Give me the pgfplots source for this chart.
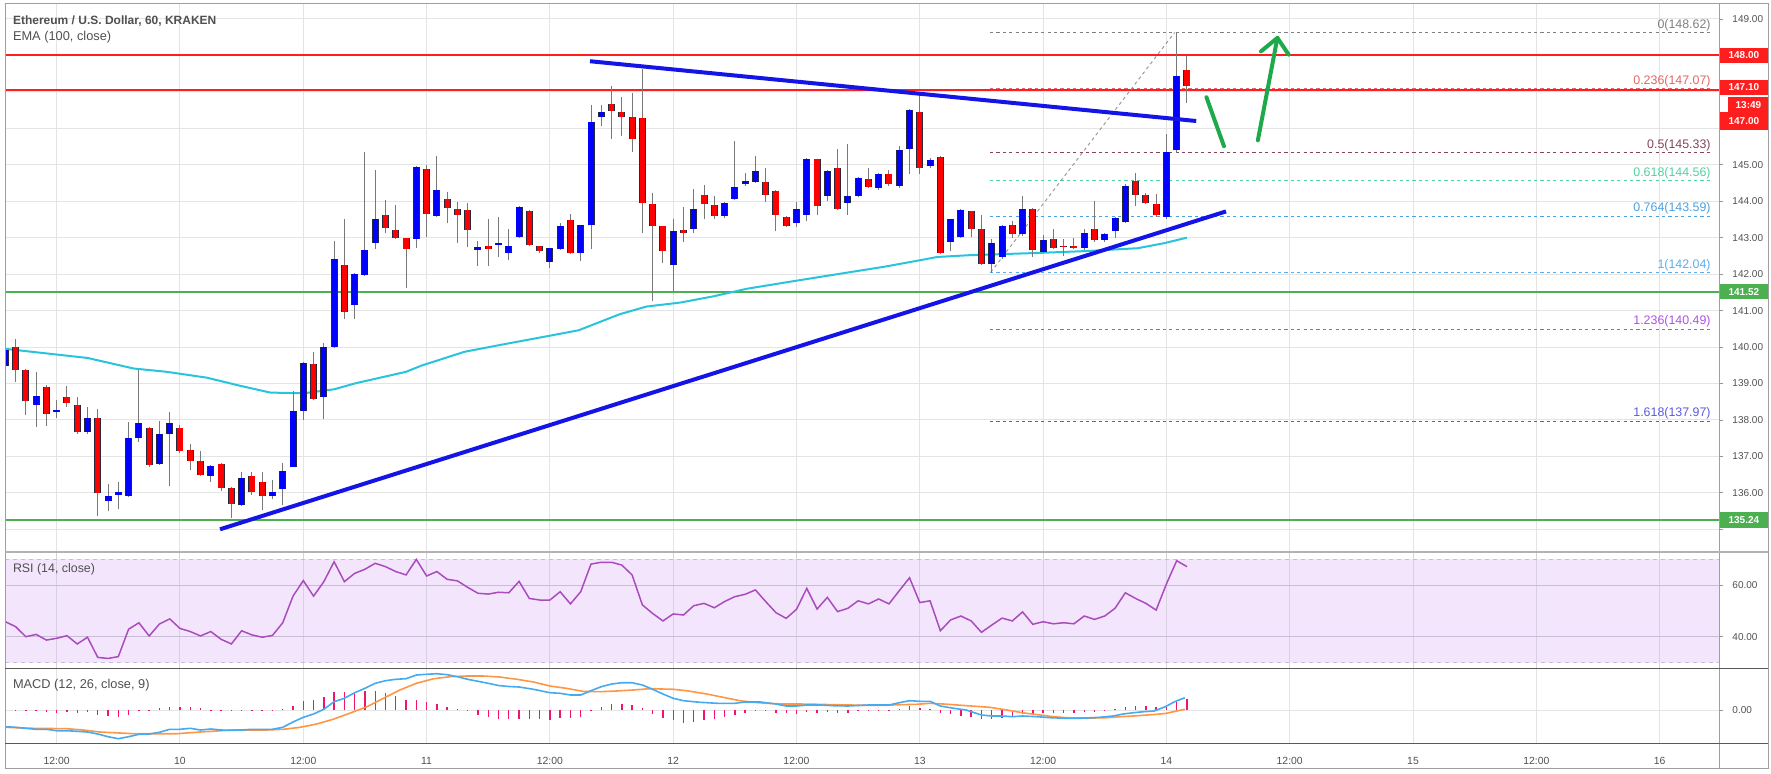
\documentclass[border=0pt]{standalone}
\usepackage{fontspec}
\setmainfont{Liberation Sans}
\usepackage{pgfplots}
\usepackage{pgfplotstable}
\pgfplotsset{compat=1.18}
\definecolor{cblue}{RGB}{0,0,255}
\definecolor{cred}{RGB}{255,0,0}
\definecolor{outl}{RGB}{40,40,60}
\definecolor{wickc}{RGB}{120,120,120}
\definecolor{trendblue}{RGB}{20,20,230}
\definecolor{emac}{RGB}{40,196,220}
\definecolor{hred}{RGB}{255,30,30}
\definecolor{hgreen}{RGB}{76,175,80}
\definecolor{arrgreen}{RGB}{30,170,75}
\definecolor{rsic}{RGB}{170,75,190}
\definecolor{rsifill}{RGB}{243,230,252}
\definecolor{rsigrid}{RGB}{200,188,214}
\definecolor{macdc}{RGB}{70,170,240}
\definecolor{sigc}{RGB}{255,150,70}
\definecolor{histc}{RGB}{240,20,110}
\definecolor{gridc}{RGB}{228,228,228}
\definecolor{txtc}{RGB}{80,80,80}
\definecolor{fibA}{RGB}{128,128,128}
\definecolor{fibB}{RGB}{230,100,100}
\definecolor{fibC}{RGB}{130,70,90}
\definecolor{fibD}{RGB}{80,210,160}
\definecolor{fibE}{RGB}{80,160,220}
\definecolor{fibF}{RGB}{90,175,235}
\definecolor{fibG}{RGB}{175,80,230}
\definecolor{fibH}{RGB}{90,90,225}

\pgfplotstableread{
t o h l c
-17 139.49 140.05 139.30 139.92
-14 138.40 139.32 137.80 138.67
-12 138.22 138.54 138.04 138.27
-9 137.67 138.35 137.62 138.04
-7 135.77 136.23 135.49 135.91
-6 135.94 136.31 135.56 136.01
-5 135.91 137.93 135.88 137.50
-4 137.50 139.38 137.39 137.91
-2 136.80 137.97 136.77 137.62
-1 137.62 138.22 136.20 137.91
3 136.47 136.76 136.29 136.74
6 135.66 136.56 135.64 136.42
9 135.90 136.34 135.82 136.01
10 136.10 136.81 135.66 136.61
11 136.72 138.78 136.70 138.24
12 138.24 139.60 138.00 139.57
14 138.64 140.10 138.02 140.00
15 140.00 142.92 139.98 142.41
17 141.15 142.03 140.78 142.01
18 141.98 145.35 141.96 142.67
19 142.85 144.86 142.69 143.50
23 142.96 144.96 142.71 144.93
25 143.59 145.24 143.57 144.31
29 142.66 142.90 142.23 142.74
31 142.80 143.58 142.47 142.85
32 142.58 143.25 142.38 142.77
33 143.02 143.88 143.00 143.83
36 142.33 142.73 142.16 142.71
37 142.69 143.39 142.67 143.31
39 142.58 143.36 142.36 143.34
40 143.34 146.65 142.69 146.16
41 146.32 146.65 146.05 146.45
48 142.25 143.50 141.55 143.18
50 143.25 144.34 143.12 143.79
53 143.59 143.98 143.55 143.96
54 144.05 145.64 144.03 144.40
55 144.47 144.78 144.42 144.56
56 144.53 145.24 144.51 144.83
60 143.39 143.99 143.29 143.79
61 143.63 145.18 143.45 145.16
63 144.15 144.85 144.01 144.83
65 143.96 145.56 143.63 144.13
66 144.13 144.66 144.11 144.64
68 144.35 144.77 144.31 144.75
70 144.42 145.51 144.37 145.40
71 145.43 146.52 144.75 146.50
73 144.96 145.19 144.90 145.13
75 142.88 143.52 142.63 143.50
76 143.01 143.79 142.99 143.77
79 142.27 142.96 142.04 142.85
80 142.47 143.36 142.42 143.32
82 143.10 144.15 143.04 143.79
84 142.60 143.07 142.58 142.93
88 142.71 143.23 142.67 143.14
90 142.93 143.13 142.89 143.09
91 143.18 143.57 143.00 143.55
92 143.42 144.48 143.40 144.42
96 143.58 145.83 143.50 145.35
97 145.40 148.62 145.33 147.43
}\upc

\pgfplotstableread{
t o h l c
-16 140.00 140.22 139.05 139.36
-15 139.36 139.40 138.13 138.51
-13 138.89 138.95 137.82 138.15
-11 138.63 138.94 138.35 138.46
-10 138.40 138.64 137.62 137.66
-8 138.05 138.31 135.36 136.00
-3 137.77 137.80 136.72 136.75
0 137.77 137.86 137.10 137.15
1 137.17 137.34 136.63 136.88
2 136.86 137.15 136.45 136.48
4 136.79 136.82 136.04 136.14
5 136.14 136.16 135.31 135.69
7 136.47 136.56 135.95 136.01
8 136.31 136.56 135.52 135.90
13 139.53 139.86 138.56 138.58
16 142.25 143.50 140.78 140.95
20 143.61 144.04 143.12 143.26
21 143.21 143.89 142.96 142.98
22 142.99 143.00 141.62 142.69
24 144.88 144.99 143.03 143.66
26 144.07 144.26 143.39 143.80
27 143.79 143.99 142.85 143.61
28 143.77 143.94 142.74 143.21
30 142.76 143.50 142.23 142.70
34 143.74 143.76 142.78 142.80
35 142.77 142.78 142.58 142.64
38 143.48 143.66 142.56 142.58
42 146.68 147.16 145.72 146.48
43 146.46 146.86 145.78 146.30
44 146.32 146.97 145.35 145.72
45 146.29 147.62 143.12 143.94
46 143.91 144.23 141.26 143.32
47 143.31 143.33 142.30 142.63
49 143.21 143.83 142.89 143.12
51 144.18 144.45 143.50 143.91
52 143.90 144.15 143.50 143.59
57 144.53 144.91 143.99 144.18
58 144.29 144.31 143.18 143.63
59 143.58 143.60 143.29 143.32
62 145.15 145.17 143.61 143.88
64 144.91 145.42 143.77 143.79
67 144.61 144.91 144.36 144.40
69 144.75 144.86 144.42 144.46
72 146.45 146.92 144.75 144.91
74 145.21 145.23 142.56 142.58
77 143.72 143.74 143.01 143.23
78 143.23 143.61 142.25 142.27
81 143.34 143.46 143.00 143.10
83 143.79 143.81 142.47 142.66
85 142.96 143.23 142.69 142.71
86 142.78 142.96 142.50 142.74
87 142.77 143.00 142.70 142.72
89 143.23 144.01 142.89 142.93
93 144.55 144.77 143.88 144.18
94 144.18 144.22 143.92 143.94
95 143.93 144.20 143.58 143.61
98 147.60 147.97 146.69 147.15
}\dnc

\pgfplotsset{
  panel/.style={scale only axis, width=857pt, anchor=north west,
    xmin=-17.03, xmax=149.78, axis line style={draw=none},
    xtick={-12,0,...,144}, xticklabels={,,,,,,,,,,,,,},
    xtick style={draw=none},
    ytick pos=right, yticklabel pos=right, tick align=outside,
    major tick length=2pt,
    ytick style={draw=txtc!60, line width=0.4pt},
    yticklabel style={font=\fontsize{5}{6}\selectfont, text=txtc, anchor=west, xshift=1.2pt},
    clip mode=individual},
  cwick/.style={draw=none, mark=none, forget plot,
    error bars/.cd, y dir=plus, y explicit, error mark=none,
    error bar style={draw=wickc, line width=0.5pt, solid}},
  cbody/.style 2 args={draw=none, mark=none, forget plot,
    error bars/.cd, y dir=plus, y explicit, error mark=none,
    error bar style={draw=#1, line width=#2, solid, line cap=butt}},
}

\begin{document}
\begin{tikzpicture}[font=\fontsize{5}{6}\selectfont]
\useasboundingbox (0,0) rectangle (885.5pt,-387pt);

% ---------------- main price panel ----------------
\begin{axis}[panel, at={(2.5pt,-2pt)}, height=274pt,
  ymin=134.377, ymax=149.41,
  ytick={135,...,149},
  yticklabels={,136.00,137.00,138.00,139.00,140.00,141.00,142.00,143.00,144.00,145.00,,,,149.00},
  grid=major, major grid style={draw=gridc, line width=0.5pt}]

% horizontal levels
\addplot[hred, line width=1pt] coordinates {(-17.03,148.00) (149.78,148.00)};
\addplot[hred, line width=1pt] coordinates {(-17.03,147.04) (149.78,147.04)};
\addplot[hgreen, line width=1.1pt] coordinates {(-17.03,141.52) (149.78,141.52)};
\addplot[hgreen, line width=1.1pt] coordinates {(-17.03,135.25) (149.78,135.25)};

% fibonacci levels
\addplot[fibA, line width=0.5pt, dash pattern=on 1.6pt off 1.6pt] coordinates {(78.83,148.62) (149.0,148.62)};
\addplot[fibB, line width=0.5pt, dash pattern=on 1.6pt off 1.6pt] coordinates {(78.83,147.10) (149.0,147.10)};
\addplot[fibC, line width=0.6pt, dash pattern=on 1.6pt off 1.6pt] coordinates {(78.83,145.33) (149.0,145.33)};
\addplot[fibD, line width=0.5pt, dash pattern=on 1.6pt off 1.6pt] coordinates {(78.83,144.56) (149.0,144.56)};
\addplot[fibE, line width=0.5pt, dash pattern=on 1.6pt off 1.6pt] coordinates {(78.83,143.59) (149.0,143.59)};
\addplot[fibF, line width=0.5pt, dash pattern=on 1.6pt off 1.6pt] coordinates {(78.83,142.04) (149.0,142.04)};
\addplot[fibG, line width=0.5pt, dash pattern=on 1.6pt off 1.6pt] coordinates {(78.83,140.49) (149.0,140.49)};
\addplot[fibH, line width=0.5pt, dash pattern=on 1.6pt off 1.6pt] coordinates {(78.83,137.97) (149.0,137.97)};
\addplot[fibA!80, line width=0.5pt, dash pattern=on 1.6pt off 1.6pt] coordinates {(78.9,142.05) (96.8,148.63)};

% EMA 100
\addplot[emac, line width=1pt] coordinates {
(-17,139.95) (-9,139.70) (-4.5,139.41) (-1.3,139.32) (2.6,139.16) (5.8,138.94) (8.8,138.75)
(12,138.73) (15,138.84) (17,139.00) (22,139.32) (23.5,139.49) (27.7,139.87) (31.6,140.08)
(35.8,140.30) (38.8,140.46) (42.8,140.90) (45.4,141.11) (48.7,141.22) (51.9,141.39)
(55.2,141.60) (60,141.82) (64.9,142.04) (68.5,142.20) (72,142.38) (73.7,142.47)
(76.9,142.52) (83.4,142.58) (88,142.63) (93.2,142.71) (95.8,142.85) (98,143.00)};

% candles: wicks
\addplot[cwick] table[x=t, y=l, y error expr=\thisrow{h}-\thisrow{l}] {\upc};
\addplot[cwick] table[x=t, y=l, y error expr=\thisrow{h}-\thisrow{l}] {\dnc};
% candles: bodies (outline then fill)
\addplot[cbody={outl}{3.5pt}] table[x=t, y=o, y error expr=\thisrow{c}-\thisrow{o}] {\upc};
\addplot[cbody={cblue}{2.6pt}] table[x=t, y=o, y error expr=\thisrow{c}-\thisrow{o}] {\upc};
\addplot[cbody={outl}{3.5pt}] table[x=t, y=c, y error expr=\thisrow{o}-\thisrow{c}] {\dnc};
\addplot[cbody={cred}{2.6pt}] table[x=t, y=c, y error expr=\thisrow{o}-\thisrow{c}] {\dnc};

% trend lines
\addplot[trendblue, line width=2pt] coordinates {(3.9,135.00) (101.8,143.72)};
\addplot[trendblue, line width=2pt] coordinates {(39.9,147.84) (98.9,146.20)};

% green arrows
\addplot[arrgreen, line width=2pt, line cap=round] coordinates {(99.9,146.85) (101.6,145.51)};
\addplot[arrgreen, line width=2pt, line cap=round] coordinates {(104.9,145.67) (106.8,148.48)};
\addplot[arrgreen, line width=2pt, line cap=round, line join=round] coordinates {(105.2,148.11) (106.8,148.48) (107.9,148.02)};

% fib labels
\begin{scope}[every node/.style={anchor=south east, inner sep=0pt, font=\fontsize{6.2}{7}\selectfont, yshift=0.6pt}]
\node[text=fibA] at (axis cs:149.0,148.62) {0(148.62)};
\node[text=fibB] at (axis cs:149.0,147.10) {0.236(147.07)};
\node[text=fibC] at (axis cs:149.0,145.33) {0.5(145.33)};
\node[text=fibD] at (axis cs:149.0,144.56) {0.618(144.56)};
\node[text=fibE] at (axis cs:149.0,143.59) {0.764(143.59)};
\node[text=fibF] at (axis cs:149.0,142.04) {1(142.04)};
\node[text=fibG] at (axis cs:149.0,140.49) {1.236(140.49)};
\node[text=fibH] at (axis cs:149.0,137.97) {1.618(137.97)};
\end{scope}

% price boxes on the scale
\begin{scope}[every node/.style={anchor=west, inner sep=0pt, minimum width=24.5pt, minimum height=7.8pt, text=white, font=\bfseries\fontsize{5}{6}\selectfont}]
\node[fill=hred] at (axis cs:149.78,148.00) {148.00};
\node[fill=hred] at (axis cs:149.78,147.12) {147.10};
\node[fill=hred, minimum width=20pt, xshift=4.5pt] at (axis cs:149.78,146.65) {13:49};
\node[fill=hred, minimum height=8.8pt] at (axis cs:149.78,146.20) {147.00};
\node[fill=hgreen] at (axis cs:149.78,141.52) {141.52};
\node[fill=hgreen] at (axis cs:149.78,135.25) {135.24};
\end{scope}
\end{axis}

% ---------------- RSI panel ----------------
\begin{axis}[panel, at={(2.5pt,-276pt)}, height=58.15pt,
  ymin=27.78, ymax=72.77, ytick={40,60}, yticklabels={40.00,60.00}]
\addplot[fill=rsifill, draw=none] coordinates {(-17.03,30) (149.78,30) (149.78,70) (-17.03,70) (-17.03,30)};
\pgfplotsinvokeforeach{-12,0,12,24,36,48,60,72,84,96,108,120,132,144}{
  \draw[draw=rsigrid!70, line width=0.5pt] (axis cs:#1,27.78) -- (axis cs:#1,72.77);}
\draw[rsigrid, line width=0.5pt] (axis cs:-17.03,40) -- (axis cs:149.78,40);
\draw[rsigrid, line width=0.5pt] (axis cs:-17.03,60) -- (axis cs:149.78,60);
\addplot[rsigrid, line width=0.5pt, dash pattern=on 2pt off 2pt] coordinates {(-17.03,70) (149.78,70)};
\addplot[rsigrid, line width=0.5pt, dash pattern=on 2pt off 2pt] coordinates {(-17.03,30) (149.78,30)};
\addplot[rsic, line width=0.75pt] coordinates {
(-17,45.8) (-16,43.9) (-15,40.0) (-14,40.9) (-13,38.7) (-12,39.4) (-11,40.4) (-10,37.2)
(-9,39.8) (-8,32.0) (-7,31.6) (-6,32.3) (-5,42.9) (-4,45.4) (-3,40.3) (-2,44.9) (-1,46.9)
(0,43.2) (1,42.0) (2,40.3) (3,42.0) (4,39.0) (5,37.2) (6,42.3) (7,40.7) (8,39.8) (9,40.5)
(10,45.4) (11,55.7) (12,61.7) (13,55.7) (14,61.3) (15,69.0) (16,61.3) (17,64.5) (18,66.1)
(19,68.4) (20,67.1) (21,65.2) (22,63.9) (23,69.9) (24,63.5) (25,65.2) (26,62.2) (27,61.6)
(28,59.1) (29,56.8) (30,56.5) (31,57.2) (32,57.0) (33,61.4) (34,54.8) (35,54.2) (36,54.2)
(37,57.4) (38,52.7) (39,57.4) (40,68.1) (41,68.8) (42,68.8) (43,67.7) (44,63.9) (45,52.3)
(46,49.0) (47,46.1) (48,48.8) (49,48.4) (50,52.0) (51,52.9) (52,51.2) (53,53.6) (54,55.5)
(55,56.4) (56,58.1) (57,53.6) (58,49.3) (59,47.1) (60,50.6) (61,58.7) (62,50.7) (63,55.2)
(64,49.7) (65,51.0) (66,53.9) (67,52.7) (68,54.6) (69,52.7) (70,57.8) (71,62.8) (72,53.2)
(73,53.9) (74,42.3) (75,46.5) (76,48.0) (77,46.1) (78,41.7) (79,44.5) (80,47.2) (81,46.1)
(82,49.6) (83,44.8) (84,45.8) (85,45.0) (86,45.4) (87,45.0) (88,48.0) (89,46.7) (90,48.0)
(91,51.0) (92,57.0) (93,54.8) (94,52.9) (95,50.3) (96,60.4) (97,69.4) (98,67.1)};
\end{axis}

% ---------------- MACD panel ----------------
\begin{axis}[panel, at={(2.5pt,-334.15pt)}, height=37.5pt,
  ymin=-3.33, ymax=4.17, ytick={0}, yticklabels={0.00},
  grid=major, major grid style={draw=gridc, line width=0.5pt},
  xticklabels={12:00,10,12:00,11,12:00,12,12:00,13,12:00,14,12:00,15,12:00,16},
  xticklabel style={font=\fontsize{5.2}{6}\selectfont, text=txtc, anchor=center, yshift=-6.9pt}]
\addplot[histc, line width=0.7pt, ycomb, mark=none] coordinates {
(-17,-0.07) (-16,-0.10) (-15,-0.10) (-14,-0.13) (-13,-0.20) (-12,-0.27) (-11,-0.23) (-10,-0.30)
(-9,-0.20) (-8,-0.50) (-7,-0.60) (-6,-0.73) (-5,-0.50) (-4,-0.13) (-3,0.03) (-2,0.20) (-1,0.33)
(0,0.33) (1,0.33) (2,0.17) (3,0.02) (4,-0.07) (5,-0.10) (6,0.02) (7,-0.07) (8,-0.07) (9,0.02)
(10,0.07) (11,0.40) (12,0.90) (13,1.00) (14,1.33) (15,1.83) (16,1.77) (17,1.83) (18,1.90)
(19,1.93) (20,1.67) (21,1.43) (22,1.00) (23,1.00) (24,0.83) (25,0.60) (26,0.33) (27,0.13)
(28,-0.07) (29,-0.50) (30,-0.73) (31,-0.87) (32,-0.93) (33,-0.93) (34,-0.87) (35,-0.87)
(36,-1.00) (37,-0.77) (38,-0.77) (39,-0.73) (40,0.05) (41,0.33) (42,0.60) (43,0.60) (44,0.50)
(45,0.17) (46,-0.40) (47,-0.83) (48,-1.00) (49,-1.27) (50,-1.17) (51,-1.00) (52,-0.93)
(53,-0.67) (54,-0.50) (55,-0.33) (56,0.05) (57,0.05) (58,-0.27) (59,-0.33) (60,-0.40)
(61,-0.17) (62,-0.27) (63,-0.17) (64,-0.27) (65,-0.27) (66,-0.10) (67,-0.10) (68,0.03)
(69,0.03) (70,0.13) (71,0.40) (72,0.23) (73,0.07) (74,-0.33) (75,-0.43) (76,-0.60) (77,-0.67)
(78,-0.90) (79,-0.93) (80,-0.80) (81,-0.73) (82,-0.40) (83,-0.40) (84,-0.33) (85,-0.33)
(86,-0.27) (87,-0.27) (88,-0.17) (89,-0.17) (90,0.02) (91,0.10) (92,0.33) (93,0.40) (94,0.40)
(95,0.33) (96,0.43) (97,0.83) (98,1.07)};
\addplot[sigc, line width=0.8pt] coordinates {
(-17,-1.73) (-14.3,-1.83) (-11,-1.87) (-9.4,-2.0) (-7.8,-2.2) (-4.5,-2.37) (-0.3,-2.37)
(1.95,-2.2) (5.2,-2.0) (8.4,-2.0) (10.05,-1.93) (11.7,-1.73) (13.3,-1.4) (14.9,-0.93)
(16.5,-0.33) (18.2,0.33) (19.8,1.17) (21.4,2.0) (23.0,2.67) (24.7,3.13) (26.3,3.33)
(27.9,3.4) (29.5,3.4) (31.1,3.3) (32.8,3.07) (34.4,2.8) (36.0,2.4) (37.6,2.17) (39.2,1.87)
(40.9,1.83) (42.5,1.9) (44.1,2.0) (45.7,2.13) (48.0,2.07) (49.3,1.93) (51.25,1.6) (53.2,1.2)
(54.5,0.93) (55.8,0.77) (57.1,0.67) (58.7,0.6) (60.3,0.6) (62.0,0.57) (63.6,0.53) (65.2,0.5)
(66.8,0.47) (68.5,0.47) (70.1,0.53) (71.7,0.57) (73.0,0.67) (74.3,0.6) (76.6,0.43) (78.8,0.27)
(80.3,0.03) (81.4,-0.17) (82.4,-0.33) (83.7,-0.5) (85.0,-0.67) (86.3,-0.77) (87.6,-0.8)
(88.9,-0.8) (90.2,-0.77) (91.5,-0.67) (92.8,-0.6) (94.1,-0.5) (95.1,-0.43) (96.0,-0.33)
(97.0,-0.1) (97.8,0.07)};
\addplot[macdc, line width=0.8pt] coordinates {
(-17,-1.67) (-16,-1.73) (-15,-1.83) (-14,-1.93) (-13,-1.93) (-12,-2.07) (-11,-2.07) (-10,-2.13)
(-9,-2.2) (-8,-2.4) (-7,-2.67) (-6,-2.87) (-5,-2.67) (-4,-2.43) (-3,-2.4) (-2,-2.23) (-1,-1.93)
(0,-1.93) (1,-1.83) (2,-2.0) (3,-1.9) (4,-2.0) (5,-2.03) (6,-2.0) (7,-1.93) (8,-1.93) (9,-1.93)
(10,-1.73) (11,-1.2) (12,-0.73) (13,-0.4) (14,0.07) (15,0.83) (16,1.17) (17,1.73) (18,2.17)
(19,2.67) (20,2.93) (21,3.07) (22,3.13) (23,3.5) (24,3.57) (25,3.63) (26,3.53) (27,3.33)
(28,3.07) (29,2.87) (30,2.67) (31,2.45) (32,2.35) (33,2.3) (34.4,2.07) (36,1.73) (37,1.67)
(38,1.5) (39,1.5) (40,1.93) (41,2.33) (42,2.6) (43,2.73) (44,2.73) (45,2.5) (46,2.07) (47,1.6)
(48,1.17) (49,0.93) (50.6,0.77) (52.3,0.67) (54,0.67) (55,0.8) (56.5,0.8) (58,0.6) (59,0.4)
(60,0.4) (61,0.5) (62.3,0.5) (63.6,0.43) (65,0.4) (67,0.5) (69,0.5) (70,0.73) (71,0.93)
(72,0.87) (73,0.87) (74,0.4) (75.3,0.17) (76.5,0) (78,-0.5) (79,-0.6) (80,-0.6) (81,-0.67)
(82,-0.6) (83.4,-0.67) (84.7,-0.77) (86.3,-0.83) (87.3,-0.83) (88.2,-0.8) (89.5,-0.73)
(90.8,-0.6) (91.8,-0.4) (92.8,-0.27) (93.8,-0.17) (94.8,-0.1) (95.9,0.33) (96.8,0.83) (97.8,1.23)};
\end{axis}

% ---------------- frame and separators ----------------
\draw[gray!75, line width=0.5pt] (2.5pt,-2pt) rectangle (884pt,-384.15pt);
\draw[gray!75, line width=0.5pt] (859.5pt,-2pt) -- (859.5pt,-384.15pt);
\draw[gray!60, line width=1.1pt] (2.5pt,-276pt) -- (884pt,-276pt);
\draw[black!65, line width=0.5pt] (2.5pt,-334.15pt) -- (884pt,-334.15pt);
\draw[black!65, line width=0.5pt] (2.5pt,-371.65pt) -- (884pt,-371.65pt);

% titles
\node[anchor=west, inner sep=0pt, text=txtc, font=\bfseries\fontsize{6}{7}\selectfont] at (6.3pt,-10.3pt) {Ethereum / U.S. Dollar, 60, KRAKEN};
\node[anchor=west, inner sep=0pt, text=txtc, font=\fontsize{6.4}{7}\selectfont] at (6.3pt,-18.8pt) {EMA (100, close)};
\node[anchor=west, inner sep=0pt, text=txtc, font=\fontsize{6.2}{7}\selectfont] at (6.3pt,-284.5pt) {RSI (14, close)};
\node[anchor=west, inner sep=0pt, text=txtc, font=\fontsize{6.4}{7}\selectfont] at (6.3pt,-342.5pt) {MACD (12, 26, close, 9)};
\end{tikzpicture}
\end{document}
